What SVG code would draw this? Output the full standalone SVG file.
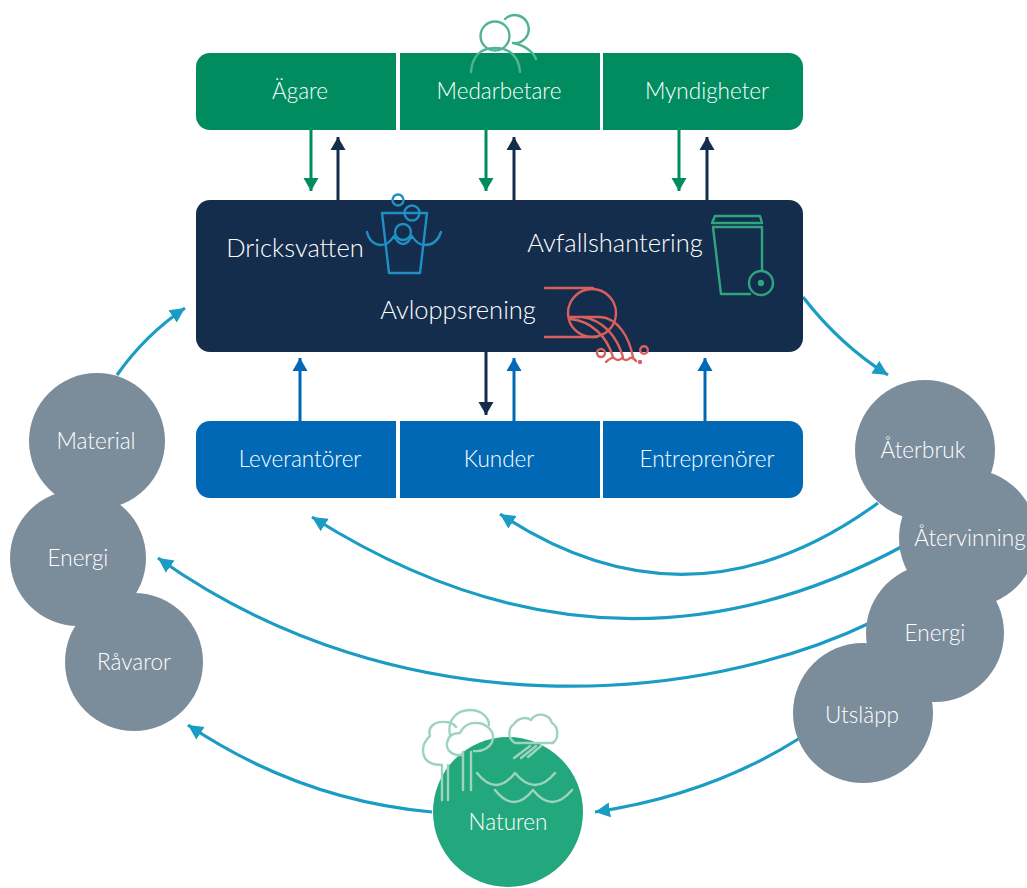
<svg xmlns="http://www.w3.org/2000/svg" width="1027" height="888" viewBox="0 0 1027 888">
<defs>
<marker id="ag" markerUnits="userSpaceOnUse" markerWidth="16" markerHeight="16" refX="13" refY="8" orient="auto"><path d="M0 0.5L13 8L0 15.5z" fill="#008c5f"/></marker>
<marker id="an" markerUnits="userSpaceOnUse" markerWidth="16" markerHeight="16" refX="13" refY="8" orient="auto"><path d="M0 0.5L13 8L0 15.5z" fill="#142d4c"/></marker>
<marker id="ab" markerUnits="userSpaceOnUse" markerWidth="16" markerHeight="16" refX="13" refY="8" orient="auto"><path d="M0 0.5L13 8L0 15.5z" fill="#0068b4"/></marker>
<marker id="ac" markerUnits="userSpaceOnUse" markerWidth="18" markerHeight="16" refX="15" refY="8" orient="auto"><path d="M0 0.5L15 8L0 15.5z" fill="#1a9cc4"/></marker>
</defs>
<style>
text{font-family:"Lato","Open Sans","Liberation Sans",sans-serif;font-size:22.5px;font-weight:300;fill:#fff;text-anchor:middle}
.big{font-size:25.5px}
.gr{fill:#7b8c9b}
.g{stroke:#008c5f;marker-end:url(#ag)}.n{stroke:#142d4c;marker-end:url(#an)}.b{stroke:#0068b4;marker-end:url(#ab)}
.s{fill:none;stroke-width:3}
.c{fill:none;stroke:#1a9cc4;stroke-width:3.2;marker-end:url(#ac)}
.i{fill:none;stroke-width:2.4;stroke-linecap:round;stroke-linejoin:round}
</style>
<rect width="1027" height="888" fill="#fff"/>
<g id="connectors">
<path class="s g" d="M311 130V191"/><path class="s n" d="M338 200V137"/>
<path class="s g" d="M486 130V191"/><path class="s n" d="M514 200V137"/>
<path class="s g" d="M679 130V191"/><path class="s n" d="M707 200V137"/>
<path class="s b" d="M300 421V358"/><path class="s n" d="M486 352V415"/>
<path class="s b" d="M514 421V358"/><path class="s b" d="M705 421V358"/>
<path class="c" d="M117 375Q145 335 185 308"/>
<path class="c" d="M803 297Q840 345 888 375"/>
<path class="c" d="M878 503Q690 640 500 514"/>
<path class="c" d="M905 545Q610 705 312 517"/>
<path class="c" d="M872 622C700 705 400 730 158 558"/>
<path class="c" d="M800 738Q710 795 595 812"/>
<path class="c" d="M432 812Q300 800 188 725"/>
</g>
<g id="agare"><path d="M210 53H396V130H210a14 14 0 0 1-14-14V67a14 14 0 0 1 14-14z" fill="#008c5f"/><text x="300" y="99">Ägare</text></g>
<g id="medarbetare"><rect x="400" y="53" width="200" height="77" fill="#008c5f"/><text x="499" y="99">Medarbetare</text>
<g class="i" stroke="#4fb394"><circle cx="495" cy="36" r="14.5"/><path d="M505 19a14 14 0 1 1 8 24c12 2 21 10 23 16"/><path d="M471 72c1-16 10-24 24-24s24 8 25 24"/></g></g>
<g id="myndigheter"><path d="M603 53H789a14 14 0 0 1 14 14V116a14 14 0 0 1-14 14H603z" fill="#008c5f"/><text x="707" y="99">Myndigheter</text></g>
<g id="center"><rect x="196" y="200" width="607" height="152" rx="14" fill="#142d4c"/>
<text class="big" x="295" y="257">Dricksvatten</text><text class="big" x="615" y="252">Avfallshantering</text><text class="big" x="458" y="319">Avloppsrening</text>
<g class="i" stroke="#1f8fc4"><circle cx="398" cy="200" r="5.5"/><circle cx="412" cy="213" r="7.5"/><circle cx="403" cy="232" r="8"/><path d="M382 213H427L420 273H389Z"/><path d="M367 232c2 9 8 13 14 13c6 0 10-4 13-9c3 5 5 8 9 8s6-3 9-8c3 5 7 9 13 9c7 0 13-4 16-13"/></g>
<g class="i" stroke="#2fa57f"><path d="M712 223L715 216H760L762 223ZM713 227H762M713 227L721 294H750M762 227V270"/><circle cx="761" cy="283" r="12"/><circle cx="761" cy="283" r="2" fill="#2fa57f"/></g>
<g class="i" stroke="#d9605c"><path d="M545 288H593M545 337H597"/><circle cx="592" cy="313" r="24"/><path d="M570 317H600C618 318 629 337 633 357M570 319C592 321 607 337 613 357M582 317C604 320 617 337 623 357"/><path d="M606 362Q611 357 614 358Q618 362 622 358Q626 362 630 358Q633 357 636 361"/><circle cx="601" cy="353" r="4"/><circle cx="644" cy="350" r="3.8"/><circle cx="640" cy="362" r="1"/></g></g>
<g id="leverantorer"><path d="M210 421H396V498H210a14 14 0 0 1-14-14V435a14 14 0 0 1 14-14z" fill="#0068b4"/><text x="300" y="467">Leverantörer</text></g>
<g id="kunder"><rect x="400" y="421" width="200" height="77" fill="#0068b4"/><text x="499" y="467">Kunder</text></g>
<g id="entreprenorer"><path d="M603 421H789a14 14 0 0 1 14 14V484a14 14 0 0 1-14 14H603z" fill="#0068b4"/><text x="707" y="467">Entreprenörer</text></g>
<g id="material"><circle class="gr" cx="97" cy="441" r="68"/><text x="96" y="449">Material</text></g>
<g id="energi-l"><circle class="gr" cx="78" cy="558" r="68"/><text x="78" y="566">Energi</text></g>
<g id="ravaror"><circle class="gr" cx="134" cy="662" r="69"/><text x="134" y="670">Råvaror</text></g>
<g id="atervinning"><circle class="gr" cx="968" cy="538" r="69"/><text x="970" y="546">Återvinning</text></g>
<g id="aterbruk"><circle class="gr" cx="925" cy="450" r="70"/><text x="923" y="458">Återbruk</text></g>
<g id="energi-r"><circle class="gr" cx="935" cy="633" r="69"/><text x="935" y="641">Energi</text></g>
<g id="utslapp"><circle class="gr" cx="863" cy="713" r="70"/><text x="862" y="723">Utsläpp</text></g>
<g id="naturen"><circle cx="508" cy="812" r="75" fill="#22a87c"/><text x="508" y="830">Naturen</text>
<g class="i" stroke="#9ed3bf"><path d="M442 800V765M448 800V765M463 790V752M471 790V752"/><path d="M442 765C430 765 423 760 423 750C423 742 428 738 430 736C427 727 435 721 445 722C450 722 454 724 456 727"/><path d="M450 735C447 722 455 710 470 710C482 710 489 718 489 725"/><path d="M462 755C452 756 446 750 447 743C448 736 453 733 460 733C463 726 470 722 477 723C486 723 494 731 493 738C492 747 483 752 474 751"/><path d="M515 743C507 738 508 728 514 724C519 717 527 717 531 720C536 712 549 713 552 723C559 727 559 740 552 743"/><path d="M516 743H553M530 746L514 758M536 746L521 758M541 746L528 757"/><path d="M477 773Q496 797 515 773Q535 797 555 773M495 790Q514 814 533 790Q552 814 572 790"/></g></g>
</svg>
